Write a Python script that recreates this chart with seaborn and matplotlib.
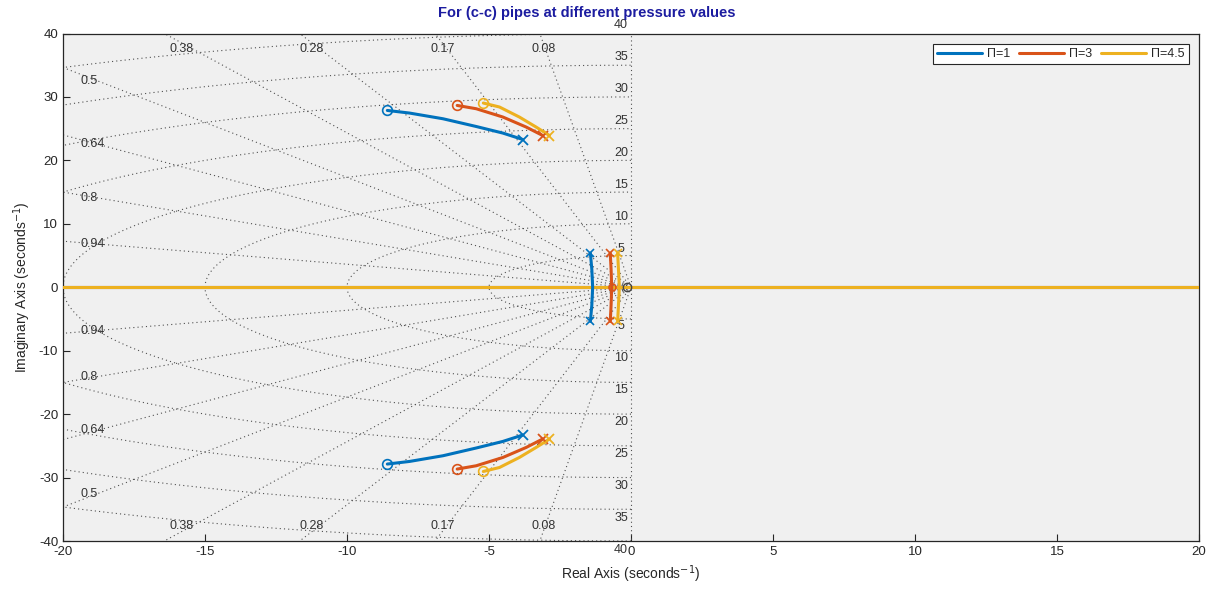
import numpy as np
import pandas as pd
import matplotlib
matplotlib.use("Agg")
import matplotlib.pyplot as plt
import seaborn as sns

# ---- data (upper half, conjugates are mirrored) ----
labels = ["Π=1", "Π=3", "Π=4.5"]
colors = ["#0072BD", "#D95319", "#EDB120"]

# far branches: pole (x) -> zero (o)
far_re = {
    "Π=1": [-3.81, -4.51, -5.45, -6.62, -7.80, -8.58],
    "Π=3": [-3.11, -3.69, -4.51, -5.45, -6.12],
    "Π=4.5": [-2.87, -3.34, -3.93, -4.63, -5.20],
}
far_im = {
    "Π=1": [23.29, 24.30, 25.34, 26.56, 27.46, 27.87],
    "Π=3": [23.92, 25.25, 26.83, 28.14, 28.66],
    "Π=4.5": [23.92, 25.25, 26.83, 28.41, 29.04],
}

# near-origin branches: pole (x) -> real axis
near_re = {
    "Π=1": [-1.43, -1.38, -1.35],
    "Π=3": [-0.73, -0.70, -0.68],
    "Π=4.5": [-0.47, -0.44, -0.41],
}
near_im = {
    "Π=1": [5.38, 2.85, 0.0],
    "Π=3": [5.38, 2.70, 0.0],
    "Π=4.5": [5.38, 2.70, 0.0],
}

# sgrid values
zetas = [0.08, 0.17, 0.28, 0.38, 0.5, 0.64, 0.8, 0.94]
wns = [5, 10, 15, 20, 25, 30, 35, 40]

xticks = [-20, -15, -10, -5, 0, 5, 10, 15, 20]
yticks = [-40, -30, -20, -10, 0, 10, 20, 30, 40]

# ---- style ----
sns.set_style("white")
plt.rcParams['font.family'] = ['Liberation Sans', 'DejaVu Sans']
plt.rcParams['axes.unicode_minus'] = False

fig = plt.figure(figsize=(12.11, 5.91), dpi=100)
ax = fig.add_axes([63 / 1211, 50 / 591, 1136 / 1211, 507.5 / 591])
ax.set_facecolor("#f0f0f0")

grid_kw = dict(color="#505050", linestyle=(0, (1, 2.8)), linewidth=0.8, zorder=1)
lab_kw = dict(fontsize=9, color="#333333", zorder=2)

# damping rays
for z in zetas:
    s = np.sqrt(1 - z ** 2)
    for sign in (1, -1):
        ax.plot([0, -80 * z], [0, sign * 80 * s], **grid_kw)
    if s / z * 20 > 38.5:
        xl = -38.5 * z / s
        for sign in (1, -1):
            ax.text(xl, sign * 37.6, f"{z:g}", ha="center", va="center", **lab_kw)
    else:
        yl = 18.8 * s / z
        for sign in (1, -1):
            ax.text(-19.4, sign * yl, f"{z:g}", ha="left", va="center", **lab_kw)

# natural frequency circles
t = np.linspace(-np.pi / 2, np.pi / 2, 400)
for wn in wns:
    ax.plot(-wn * np.cos(t), wn * np.sin(t), **grid_kw)
    for sign in (1, -1):
        ax.text(-0.35, sign * (wn * 1.01 + 1.0), f"{wn}", ha="center",
                va="center", **lab_kw)
ax.plot([0, 0], [-45, 45], **grid_kw)

# ---- loci ----
for lab, col in zip(labels, colors):
    ax.plot([-20, 20], [0, 0], color=col, lw=2.2, zorder=3, label=lab)
    for sign in (1, -1):
        df = pd.DataFrame({"re": far_re[lab],
                           "im": [sign * v for v in far_im[lab]]})
        sns.lineplot(data=df, x="re", y="im", sort=False, estimator=None,
                     color=col, lw=2.2, ax=ax, zorder=4)
        ax.plot(df["re"].iloc[0], df["im"].iloc[0], "x", color=col,
                ms=7, mew=1.3, zorder=5)
        ax.plot(df["re"].iloc[-1], df["im"].iloc[-1], "o", color=col,
                mfc="none", ms=7, mew=1.2, zorder=5)

    nr = near_re[lab] + near_re[lab][::-1][1:]
    ni = near_im[lab] + [-v for v in near_im[lab][::-1][1:]]
    dfn = pd.DataFrame({"re": nr, "im": ni})
    sns.lineplot(data=dfn, x="re", y="im", sort=False, estimator=None,
                 color=col, lw=2.2, ax=ax, zorder=4)
    ax.plot([nr[0], nr[-1]], [ni[0], ni[-1]], "x", color=col, ms=6,
            mew=1.2, ls="none", zorder=5)

ax.plot(near_re["Π=3"][-1], 0, "o", color=colors[1], mfc="none", ms=5,
        mew=1.2, zorder=6)
ax.plot(-0.15, 0, "o", color="#444444", mfc="none", ms=6, mew=1.0, zorder=6)

# ---- axes ----
ax.set_xlim(-20, 20)
ax.set_ylim(-40, 40)
ax.set_xticks(xticks)
ax.set_yticks(yticks)
ax.tick_params(direction="in", length=5, width=0.8, labelsize=9.5,
               colors="#262626", left=True, bottom=True)
for sp in ax.spines.values():
    sp.set_color("#262626")
    sp.set_linewidth(0.9)
ax.set_xlabel("Real Axis (seconds$^{-1}$)", fontsize=10, color="#262626",
              labelpad=4)
ax.set_ylabel("Imaginary Axis (seconds$^{-1}$)", fontsize=10, color="#262626",
              labelpad=4)

leg = ax.legend(loc="upper right", ncol=3, fontsize=9, frameon=True,
                fancybox=False, edgecolor="#262626", framealpha=1,
                handlelength=3.6, columnspacing=0.7, handletextpad=0.4,
                borderpad=0.35, borderaxespad=0.8)
leg.get_frame().set_linewidth(0.8)

fig.text(587 / 1211, 1 - 13 / 591, "For (c-c) pipes at different pressure values",
         ha="center", va="center", fontsize=10.5, fontweight="bold",
         color="#1c1ca0")

fig.savefig("out.png", dpi=100)
